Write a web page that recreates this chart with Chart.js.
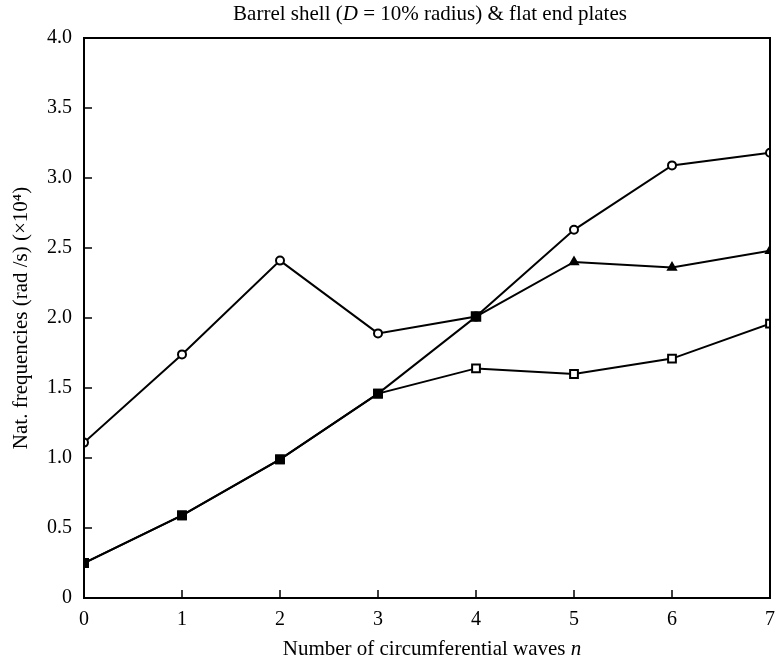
<!DOCTYPE html>
<html>
<head>
<meta charset="utf-8">
<script src="https://cdn.jsdelivr.net/npm/chart.js@4/dist/chart.umd.min.js"></script>
<style>
  html, body { margin: 0; padding: 0; background: #fff; }
  #wrap { width: 775px; height: 664px; }
</style>
</head>
<body>
<div id="wrap"><canvas id="grafica"></canvas></div>
<script>
// Modos circunferenciales n = 0..7
const ondas = [0, 1, 2, 3, 4, 5, 6, 7];
// Frecuencias naturales (rad/s x 10^4)
const serieCirculos = [1.11, 1.74, 2.41, 1.89, 2.01, 2.63, 3.09, 3.18];
const serieTriangulos = [0.25, 0.59, 0.99, 1.46, 2.01, 2.40, 2.36, 2.48];
const serieCuadrados = [0.25, 0.59, 0.99, 1.46, 1.64, 1.60, 1.71, 1.96];
const ticksY = [0, 0.5, 1.0, 1.5, 2.0, 2.5, 3.0, 3.5, 4.0];

const fuente = 'Liberation Serif, Times New Roman, serif';

const puntos = serie => ondas.map((n, i) => ({ x: n, y: serie[i] }));

// Texto con partes en cursiva, centrado en (cx, cy)
function textoMixto(ctx, partes, cx, cy, size) {
    const fontDe = p => (p.i ? 'italic ' : '') + size + 'px ' + fuente;
    let total = 0;
    partes.forEach(p => { ctx.font = fontDe(p); total += ctx.measureText(p.t).width; });
    let x = cx - total / 2;
    ctx.textBaseline = 'middle';
    ctx.textAlign = 'left';
    partes.forEach(p => {
        ctx.font = fontDe(p);
        ctx.fillText(p.t, x, cy);
        x += ctx.measureText(p.t).width;
    });
}

// Marco, marcas hacia adentro y títulos
const marco = {
    id: 'marco',
    afterDraw(chart) {
        const { ctx, chartArea: a, scales } = chart;
        ctx.save();
        ctx.strokeStyle = '#000';
        ctx.lineWidth = 2;
        ctx.strokeRect(a.left, a.top, a.right - a.left, a.bottom - a.top);
        ctx.lineWidth = 1.5;
        ctx.beginPath();
        scales.x.ticks.forEach((t, i) => {
            const px = scales.x.getPixelForTick(i);
            ctx.moveTo(px, a.bottom);
            ctx.lineTo(px, a.bottom - 8);
        });
        scales.y.ticks.forEach((t, i) => {
            const py = scales.y.getPixelForTick(i);
            ctx.moveTo(a.left, py);
            ctx.lineTo(a.left + 8, py);
        });
        ctx.stroke();

        ctx.fillStyle = '#000';
        textoMixto(ctx, [
            { t: 'Barrel shell (' }, { t: 'D', i: true }, { t: ' = 10% radius) & flat end plates' }
        ], 430, 14, 21);
        textoMixto(ctx, [
            { t: 'Number of circumferential waves ' }, { t: 'n', i: true }
        ], 432, 649, 21);
        ctx.restore();
    }
};

const linea = {
    borderColor: '#000',
    borderWidth: 2,
    pointBorderColor: '#000',
    pointBorderWidth: 2,
    tension: 0
};

new Chart(document.getElementById('grafica'), {
    type: 'line',
    data: {
        datasets: [
            {
                ...linea,
                label: 'triángulos',
                data: puntos(serieTriangulos),
                pointStyle: ['rect', 'rect', 'rect', 'rect', 'rect', 'triangle', 'triangle', 'triangle'],
                pointRadius: [5.5, 5.5, 5.5, 5.5, 6, 4.5, 4.5, 4.5],
                pointBackgroundColor: '#000',
                order: 0
            },
            {
                ...linea,
                label: 'círculos',
                data: puntos(serieCirculos),
                pointStyle: 'circle',
                pointRadius: 4,
                pointBackgroundColor: '#fff',
                order: 1
            },
            {
                ...linea,
                label: 'cuadrados',
                data: puntos(serieCuadrados),
                pointStyle: 'rect',
                pointRadius: 5.5,
                pointBackgroundColor: '#fff',
                order: 1
            }
        ]
    },
    options: {
        responsive: true,
        maintainAspectRatio: false,
        animation: false,
        layout: { autoPadding: false, padding: { top: 38, right: 5, left: 0, bottom: 0 } },
        plugins: {
            legend: { display: false },
            title: { display: false },
            tooltip: { enabled: false }
        },
        scales: {
            x: {
                type: 'linear',
                min: 0,
                max: 7,
                ticks: {
                    stepSize: 1,
                    color: '#000',
                    padding: 10,
                    font: { family: fuente, size: 20 }
                },
                grid: { drawOnChartArea: false, drawTicks: false },
                border: { display: false },
                afterFit: s => {
                    s.height = 66;
                    s.paddingLeft = 0;
                    s.paddingRight = 0;
                }
            },
            y: {
                min: 0,
                max: 4,
                afterBuildTicks: s => { s.ticks = ticksY.map(v => ({ value: v })); },
                ticks: {
                    color: '#000',
                    padding: 12,
                    font: { family: fuente, size: 20 },
                    callback: v => v === 0 ? '0' : v.toFixed(1)
                },
                grid: { drawOnChartArea: false, drawTicks: false },
                border: { display: false },
                title: {
                    display: true,
                    text: 'Nat. frequencies (rad /s) (×10⁴)',
                    color: '#000',
                    padding: { top: 9, bottom: 0 },
                    font: { family: fuente, size: 21 }
                },
                afterFit: s => {
                    s.width = 84;
                    s.paddingTop = 0;
                    s.paddingBottom = 0;
                }
            }
        }
    },
    plugins: [marco]
});
</script>
</body>
</html>
